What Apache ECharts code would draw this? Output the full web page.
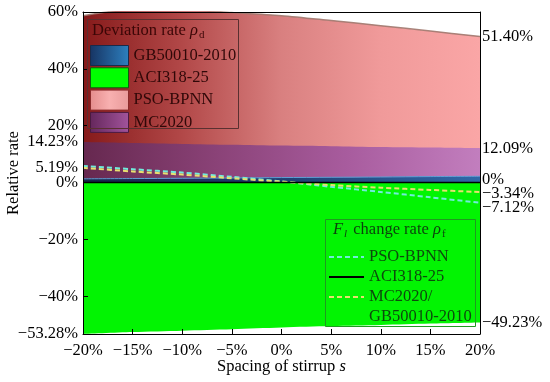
<!DOCTYPE html>
<html><head><meta charset="utf-8">
<script src="https://cdn.jsdelivr.net/npm/echarts@6/dist/echarts.min.js"></script>
<style>html,body{margin:0;padding:0;background:#fff}#c{width:550px;height:382px}</style>
</head><body><div id="c"></div>
<script>
// ---- data ----
const spacing = [-20, -15, -10, -5, 0, 5, 10, 15, 20];
const devGB  = [1.3, 1.4, 1.5, 1.6, 1.75, 1.85, 1.95, 2.1, 2.2];
const devACI = [-53.28, -52.6, -52.1, -51.6, -51.0, -50.5, -50.1, -49.6, -49.23];
const devPSO = [58.7, 60.8, 60.8, 59.8, 58.7, 57.0, 55.2, 53.3, 51.4];
const devMC  = [14.23, 13.9, 13.6, 13.3, 13.0, 12.8, 12.5, 12.3, 12.09];
const rfPSO  = [5.8, 4.7, 3.5, 2.0, 0.4, -1.5, -3.3, -5.2, -7.12];
const rfACI  = [0, 0, 0, 0, 0, 0, 0, 0, 0];
const rfMCGB = [5.19, 3.9, 2.8, 1.5, 0.3, -0.9, -1.8, -2.6, -3.34];
const leftLabels  = [-53.28, -40, -20, 0, 5.19, 14.23, 20, 40, 60];
const leftTicks   = [-40, -20, 0, 20, 40, 60];
const rightLabels = [51.40, 12.09, 0, -3.34, -7.12, -49.23];

const FONT = 'Liberation Serif';
const FS = 16.5;
const pairs = ys => spacing.map((x, i) => [x, ys[i]]);
const minus = s => s.replace('-', '\u2212');
const grad = (stops) => ({type: 'linear', x: 0, y: 0, x2: 1, y2: 0,
  colorStops: stops.map((c, i) => ({offset: i / (stops.length - 1), color: c}))});

const chart = echarts.init(document.getElementById('c'), null, {renderer: 'canvas'});

const option = {
  animation: false,
  backgroundColor: '#fff',
  textStyle: {fontFamily: FONT},
  grid: {left: 83, right: 70, top: 12, bottom: 48, containLabel: false, outerBoundsMode: 'none'},
  title: [
    {left: 92, top: 21, padding: 0, z: 20,
     text: 'Deviation rate {i|ρ}{s|d}',
     textStyle: {fontFamily: FONT, fontSize: FS, fontWeight: 'normal', color: '#3a0606', lineHeight: 20,
       rich: {i: {fontFamily: FONT, fontSize: FS, fontStyle: 'italic', color: '#3a0606', lineHeight: 20},
              s: {fontFamily: FONT, fontSize: 11, color: '#3a0606', lineHeight: 20, verticalAlign: 'bottom', padding: [0,0,0,1]}}}},
    {left: 333, top: 220, padding: 0, z: 20,
     text: '{i|F}{si|l} change rate {i|ρ}{s|f}',
     textStyle: {fontFamily: FONT, fontSize: FS, fontWeight: 'normal', color: '#0d3f0d', lineHeight: 20,
       rich: {i: {fontFamily: FONT, fontSize: FS, fontStyle: 'italic', color: '#0d3f0d', lineHeight: 20},
              si: {fontFamily: FONT, fontSize: 11, fontStyle: 'italic', color: '#0d3f0d', lineHeight: 20, verticalAlign: 'bottom', padding: [0,2,0,1]},
              s: {fontFamily: FONT, fontSize: 11, color: '#0d3f0d', lineHeight: 20, verticalAlign: 'bottom', padding: [0,0,0,1]}}}}
  ],
  legend: [
    {orient: 'vertical', left: 90, top: 45, padding: 0, itemWidth: 38, itemHeight: 20, itemGap: 1.3, z: 20,
     icon: 'rect', selectedMode: false,
     textStyle: {fontFamily: FONT, fontSize: FS, color: '#300808', lineHeight: 20},
     data: [
       {name: 'GB50010-2010', itemStyle: {color: grad(['#173463', '#2d80bf']), borderColor: '#1a2a4a', borderWidth: 1}},
       {name: 'ACI318-25', itemStyle: {color: '#00ff00', borderColor: '#0f5a0f', borderWidth: 1}},
       {name: 'PSO-BPNN', itemStyle: {color: grad(['#e48c8c', '#f8b0b0', '#e89a9a']), borderColor: '#8a2a2a', borderWidth: 1}},
       {name: 'MC2020', itemStyle: {color: grad(['#65275c', '#a2549c']), borderColor: '#4a1a40', borderWidth: 1}}
     ]},
    {orient: 'vertical', left: 328, top: 247, padding: 0, itemWidth: 35, itemHeight: 14, itemGap: 0, z: 20,
     selectedMode: false,
     itemStyle: {opacity: 0},
     textStyle: {fontFamily: FONT, fontSize: FS, color: '#0d4a0d', lineHeight: 20},
     formatter: n => n.trim().split('/')[0] + (n.indexOf('/') >= 0 ? '/' : ''),
     data: ['PSO-BPNN ', 'ACI318-25 ', 'MC2020/GB50010-2010']}
  ],
  graphic: [
    {type: 'rect', z: 100, silent: true, shape: {x: 87.5, y: 19.5, width: 151, height: 109},
     style: {fill: 'none', stroke: '#5a3030', lineWidth: 1}},
    {type: 'rect', z: 100, silent: true, shape: {x: 325.5, y: 219.5, width: 150, height: 107},
     style: {fill: 'none', stroke: '#1f9a1f', lineWidth: 1}},
    {type: 'text', z: 100, silent: true, left: 369, top: 308,
     style: {text: 'GB50010-2010', font: FS + 'px "' + FONT + '"', fill: '#0d4a0d'}}
  ],
  xAxis: [
    {type: 'value', min: -20, max: 20, interval: 5, z: 10,
     name: 'Spacing of stirrup {i|s}', nameLocation: 'middle', nameGap: 24, nameMoveOverlap: false,
     nameTextStyle: {fontFamily: FONT, fontSize: FS, color: '#000',
       rich: {i: {fontFamily: FONT, fontSize: FS, fontStyle: 'italic', color: '#000'}}},
     axisLine: {show: true, onZero: false, lineStyle: {color: '#000', width: 1}},
     axisTick: {show: true, inside: true, length: 5, lineStyle: {color: '#000'}},
     axisLabel: {fontFamily: FONT, fontSize: FS, color: '#000', margin: 8, formatter: v => minus(v + '%')},
     splitLine: {show: false}},
    {type: 'value', min: -20, max: 20, position: 'top', z: 10,
     axisLine: {show: true, onZero: false, lineStyle: {color: '#000', width: 1}},
     axisTick: {show: false}, axisLabel: {show: false}, splitLine: {show: false}}
  ],
  yAxis: [
    {type: 'value', min: -53.28, max: 60, z: 10,
     name: 'Relative rate', nameLocation: 'middle', nameGap: 61, nameRotate: 90, nameMoveOverlap: false,
     nameTextStyle: {fontFamily: FONT, fontSize: FS, color: '#000'},
     axisLine: {show: true, onZero: false, lineStyle: {color: '#000', width: 1}},
     axisTick: {show: true, inside: true, length: 5, customValues: leftTicks, lineStyle: {color: '#000'}},
     axisLabel: {fontFamily: FONT, fontSize: FS, color: '#000', margin: 5, customValues: leftLabels,
       formatter: v => minus((Number.isInteger(v) ? String(v) : v.toFixed(2)) + '%')},
     splitLine: {show: false}},
    {type: 'value', min: -53.28, max: 60, position: 'right', z: 10,
     axisLine: {show: true, onZero: false, lineStyle: {color: '#000', width: 1}},
     axisTick: {show: false},
     axisLabel: {fontFamily: FONT, fontSize: FS, color: '#000', margin: 2, customValues: rightLabels,
       formatter: v => {
         const t = minus((v === 0 ? '0' : v.toFixed(2)) + '%');
         if (v === 0) return '{u|' + t + '}';
         if (Math.abs(v + 3.34) < 1e-6) return '{d2|' + t + '}';
         if (Math.abs(v + 7.12) < 1e-6) return '{d5|' + t + '}';
         return t;
       },
       rich: {
         u:  {fontFamily: FONT, fontSize: FS, color: '#000', padding: [0, 0, 6, 0]},
         d2: {fontFamily: FONT, fontSize: FS, color: '#000', padding: [4, 0, 0, 0]},
         d5: {fontFamily: FONT, fontSize: FS, color: '#000', padding: [10, 0, 0, 0]}
       }},
     splitLine: {show: false}}
  ],
  series: [
    {name: 'PSO-BPNN', type: 'line', data: pairs(devPSO), symbol: 'none', smooth: 0.3, z: 2,
     lineStyle: {color: 'rgba(160,120,110,0.9)', width: 1.5},
     itemStyle: {color: '#f4a0a0'},
     areaStyle: {opacity: 1, color: grad(['#861a1a', '#b24848', '#d98080', '#f09a9a', '#faa6a6'])}},
    {name: 'MC2020', type: 'line', data: pairs(devMC), symbol: 'none', smooth: 0.3, z: 3,
     lineStyle: {width: 0},
     itemStyle: {color: '#a0509a'},
     areaStyle: {opacity: 1, color: grad(['#66284f', '#8a4277', '#a85c9e', '#c27ebe'])}},
    {name: 'GB50010-2010', type: 'line', data: pairs(devGB), symbol: 'none', smooth: 0.3, z: 4,
     lineStyle: {color: '#5f9fd4', width: 1},
     itemStyle: {color: '#2d80bf'},
     areaStyle: {opacity: 1, color: grad(['#142448', '#1f3f72', '#2f68a8'])}},
    {name: 'ACI318-25', type: 'line', data: pairs(devACI), symbol: 'none', smooth: 0.3, z: 4,
     lineStyle: {width: 0},
     itemStyle: {color: '#00ff00'},
     areaStyle: {opacity: 1, color: '#02f402'}},
    {name: 'PSO-BPNN ', type: 'line', data: pairs(rfPSO), symbol: 'none', smooth: 0.3, z: 6,
     itemStyle: {color: '#70ecdc'},
     lineStyle: {color: '#70ecdc', width: 2, type: [5, 3]}},
    {name: 'ACI318-25 ', type: 'line', data: pairs(rfACI), symbol: 'none', z: 7,
     itemStyle: {color: '#000'},
     lineStyle: {color: '#000', width: 1.5}},
    {name: 'MC2020/GB50010-2010', type: 'line', data: pairs(rfMCGB), symbol: 'none', smooth: 0.3, z: 6,
     itemStyle: {color: '#e8e070'},
     lineStyle: {color: '#e8e070', width: 2, type: [5, 3]}}
  ]
};
chart.setOption(option);
</script>
</body></html>
